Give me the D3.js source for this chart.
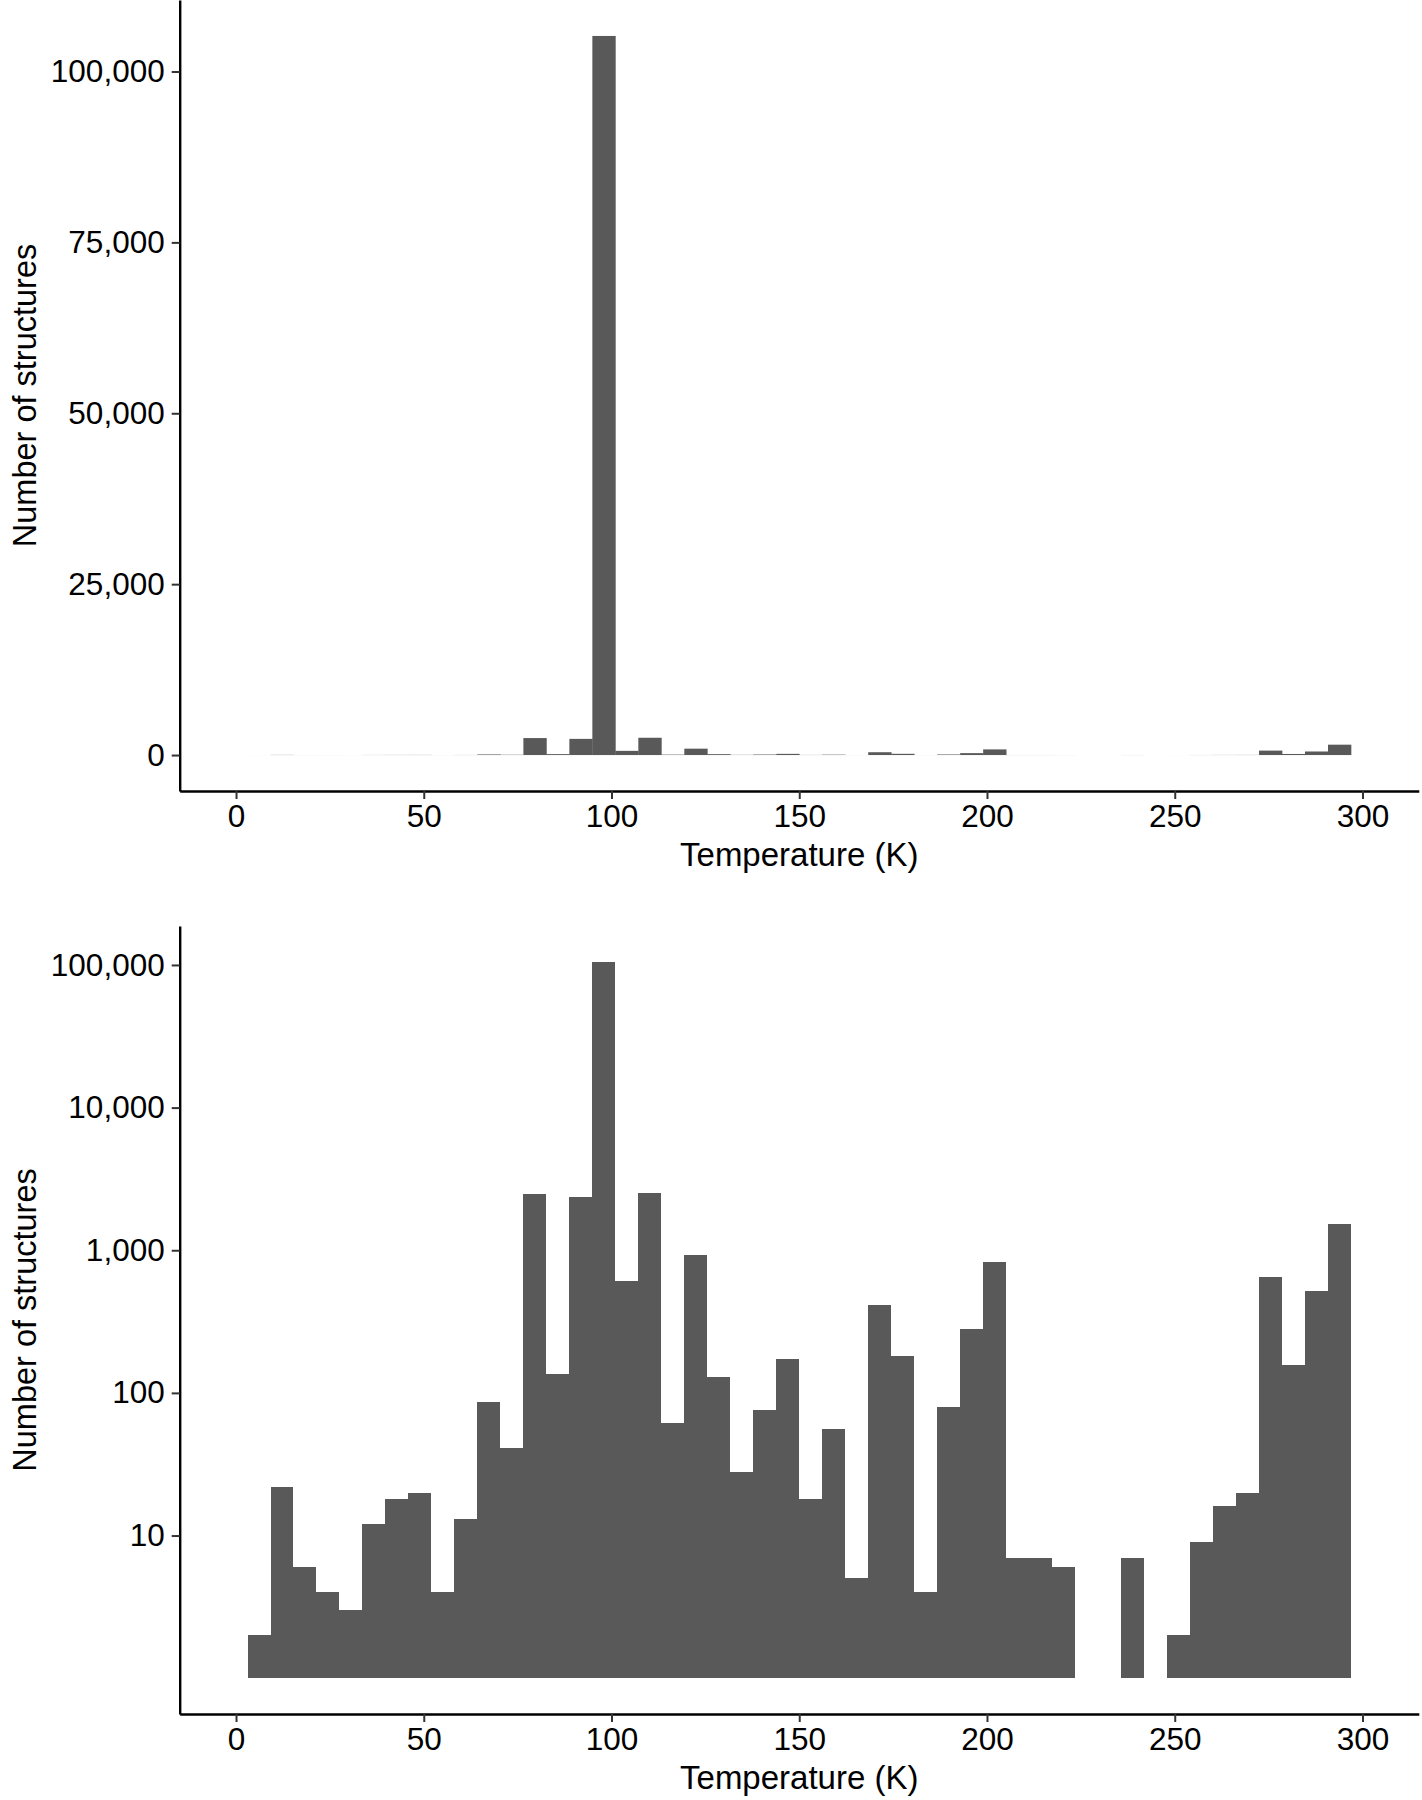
<!DOCTYPE html>
<html>
<head>
<meta charset="utf-8">
<script src="https://cdn.jsdelivr.net/npm/d3@7"></script>
<style>
  html, body { margin: 0; padding: 0; background: #fff; }
  svg { display: block; }
  text { font-family: "Liberation Sans", Arial, sans-serif; }
</style>
</head>
<body>
<svg id="chart" width="1422" height="1800"></svg>
<script>
// ---- data (histogram of temperatures, 50 bins over 0–300 K) ----
const binCount = 50;
const tempMin = 0;
const tempMax = 300;
const counts = [
  0, 2, 22, 6, 4, 3, 12, 18, 20, 4,
  13, 87, 41, 2485, 136, 2366, 105200, 613, 2529, 62,
  933, 129, 28, 76, 173, 18, 56, 5, 413, 180,
  4, 80, 280, 825, 7, 7, 6, 0, 0, 7,
  0, 2, 9, 16, 20, 650, 156, 520, 1517, 0
];
const xTicks = [0, 50, 100, 150, 200, 250, 300];
const yTicksLinear = [0, 25000, 50000, 75000, 100000];
const yTicksLog = [10, 100, 1000, 10000, 100000];
const xTitle = "Temperature (K)";
const yTitle = "Number of structures";

// bins (ggplot-like: bins centred on min..max)
const binWidth = (tempMax - tempMin) / (binCount - 1);
const bins = counts.map((c, i) => ({
  x0: tempMin + (i - 0.5) * binWidth,
  x1: tempMin + (i + 0.5) * binWidth,
  count: c
}));

const svg = d3.select("#chart");
const barColor = "#595959";
const fmt = d3.format(",");

const xRange = [179.7, 1418.8];
const x = d3.scaleLinear().domain([-15, 315]).range(xRange);

function styleAxis(g) {
  g.select(".domain").attr("stroke", "#000").attr("stroke-width", 2.4);
  g.selectAll(".tick line").attr("stroke", "#333").attr("stroke-width", 2);
  g.selectAll(".tick text").attr("fill", "#000").style("font-size", "31.5px")
    .style("font-family", '"Liberation Sans", Arial, sans-serif');
}

function drawPanel(cfg) {
  const g = svg.append("g");
  const y = cfg.y;
  const base = cfg.base;
  const data = bins.filter(b => cfg.log ? b.count >= 1 : true);

  g.append("g")
    .attr("shape-rendering", cfg.log ? "crispEdges" : "auto")
    .selectAll("rect").data(data).join("rect")
    .attr("x", d => x(d.x0))
    .attr("width", d => x(d.x1) - x(d.x0) + (cfg.log ? 0 : 0.35))
    .attr("y", d => y(Math.max(d.count, base)))
    .attr("height", d => y(base) - y(Math.max(d.count, base)))
    .attr("fill", barColor);

  const yAxis = g.append("g")
    .attr("transform", `translate(${xRange[0]},0)`)
    .call(d3.axisLeft(y).tickValues(cfg.yTicks).tickFormat(fmt)
      .tickSize(8).tickSizeOuter(0).tickPadding(7));
  styleAxis(yAxis);

  const xAxis = g.append("g")
    .attr("transform", `translate(0,${cfg.bottom})`)
    .call(d3.axisBottom(x).tickValues(xTicks).tickFormat(d3.format("d"))
      .tickSize(8).tickSizeOuter(0).tickPadding(6));
  styleAxis(xAxis);

  g.append("text")
    .attr("x", (xRange[0] + xRange[1]) / 2)
    .attr("y", cfg.bottom + 63)
    .attr("dy", "0.35em")
    .attr("text-anchor", "middle")
    .attr("fill", "#000")
    .style("font-size", "33px")
    .text(xTitle);

  g.append("text")
    .attr("transform", `translate(25,${(cfg.top + cfg.bottom) / 2}) rotate(-90)`)
    .attr("dy", "0.35em")
    .attr("text-anchor", "middle")
    .attr("fill", "#000")
    .style("font-size", "32.5px")
    .text(yTitle);
}

// top panel: linear count axis
const maxCount = d3.max(counts);
const padLin = maxCount * 0.05;
drawPanel({
  y: d3.scaleLinear().domain([-padLin, maxCount + padLin]).range([791, 0]),
  base: 0,
  log: false,
  yTicks: yTicksLinear,
  top: 0,
  bottom: 791
});

// bottom panel: log10 count axis (bars start at 1)
const lmax = Math.log10(maxCount);
const padLog = lmax * 0.05;
drawPanel({
  y: d3.scaleLog().domain([Math.pow(10, -padLog), Math.pow(10, lmax + padLog)]).range([1714, 926]),
  base: 1,
  log: true,
  yTicks: yTicksLog,
  top: 926,
  bottom: 1714
});
</script>
</body>
</html>
